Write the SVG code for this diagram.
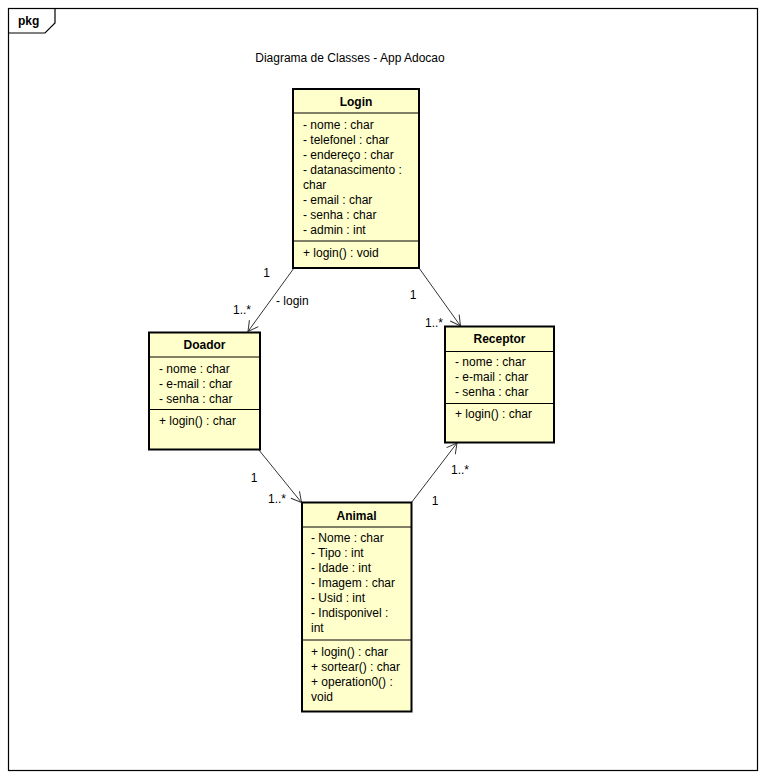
<svg xmlns="http://www.w3.org/2000/svg" width="767" height="783" viewBox="0 0 767 783">
  <style>
    text { font-family: "Liberation Sans", Arial, sans-serif; font-size: 12px; fill: #000; }
    .title { font-weight: bold; text-anchor: middle; }
    .cls { fill: #ffffcc; stroke: #000; stroke-width: 2; }
    .sep { stroke: #000; stroke-width: 1; }
    .edge { fill: none; stroke: #333; stroke-width: 1; }
    .mid { text-anchor: middle; }
  </style>
  <defs>
    <marker id="open" markerUnits="userSpaceOnUse" markerWidth="14" markerHeight="14" viewBox="-12 -7 14 14" refX="0" refY="0" orient="auto">
      <path d="M-10,-5.5 L0,0 L-10,5.5" fill="none" stroke="#333" stroke-width="1"/>
    </marker>
  </defs>

  <rect x="0" y="0" width="767" height="783" fill="#fff"/>

  <!-- package frame -->
  <g id="pkg">
    <rect x="8.5" y="8.5" width="749" height="762" fill="none" stroke="#000" stroke-width="1.2"/>
    <path d="M8.5,33 H45 L55,23 V8.5" fill="none" stroke="#000" stroke-width="1.2"/>
    <text x="18" y="25" style="font-weight:bold">pkg</text>
    <text x="350" y="62" class="mid">Diagrama de Classes - App Adocao</text>
  </g>

  <!-- associations -->
  <g id="connectors">
    <line class="edge" x1="294" y1="268" x2="248" y2="331.5" marker-end="url(#open)"/>
    <line class="edge" x1="419" y1="268" x2="460.5" y2="326" marker-end="url(#open)"/>
    <line class="edge" x1="258.5" y1="449.5" x2="301.5" y2="502.5" marker-end="url(#open)"/>
    <line class="edge" x1="411.5" y1="502.5" x2="457" y2="443" marker-end="url(#open)"/>
    <text x="266.5" y="277" class="mid">1</text>
    <text x="242" y="314" class="mid">1..*</text>
    <text x="276" y="304.5">- login</text>
    <text x="413" y="299" class="mid">1</text>
    <text x="434" y="327" class="mid">1..*</text>
    <text x="254" y="482" class="mid">1</text>
    <text x="277" y="503" class="mid">1..*</text>
    <text x="460" y="474" class="mid">1..*</text>
    <text x="435" y="505" class="mid">1</text>
  </g>

  <!-- Login -->
  <g id="Login">
    <rect class="cls" x="293" y="89" width="126" height="179"/>
    <line class="sep" x1="293" y1="113" x2="419" y2="113"/>
    <line class="sep" x1="293" y1="241" x2="419" y2="241"/>
    <text x="356" y="106" class="title">Login</text>
    <text x="303" y="129">- nome : char</text>
    <text x="303" y="144">- telefonel : char</text>
    <text x="303" y="159">- endereço : char</text>
    <text x="303" y="174">- datanascimento :</text>
    <text x="303" y="189">char</text>
    <text x="303" y="204">- email : char</text>
    <text x="303" y="219">- senha : char</text>
    <text x="303" y="234">- admin : int</text>
    <text x="303" y="257">+ login() : void</text>
  </g>

  <!-- Doador -->
  <g id="Doador">
    <rect class="cls" x="149" y="332.5" width="111" height="117"/>
    <line class="sep" x1="149" y1="357" x2="260" y2="357"/>
    <line class="sep" x1="149" y1="409.5" x2="260" y2="409.5"/>
    <text x="204.5" y="349" class="title">Doador</text>
    <text x="159" y="373">- nome : char</text>
    <text x="159" y="388">- e-mail : char</text>
    <text x="159" y="403">- senha : char</text>
    <text x="159" y="425">+ login() : char</text>
  </g>

  <!-- Receptor -->
  <g id="Receptor">
    <rect class="cls" x="445" y="326.5" width="109" height="116"/>
    <line class="sep" x1="445" y1="351.5" x2="554" y2="351.5"/>
    <line class="sep" x1="445" y1="403.5" x2="554" y2="403.5"/>
    <text x="499.5" y="343" class="title">Receptor</text>
    <text x="455" y="366">- nome : char</text>
    <text x="455" y="381">- e-mail : char</text>
    <text x="455" y="396">- senha : char</text>
    <text x="455" y="418">+ login() : char</text>
  </g>

  <!-- Animal -->
  <g id="Animal">
    <rect class="cls" x="302" y="502.5" width="109.5" height="209"/>
    <line class="sep" x1="302" y1="527" x2="411.5" y2="527"/>
    <line class="sep" x1="302" y1="640" x2="411.5" y2="640"/>
    <text x="356.5" y="520" class="title">Animal</text>
    <text x="311" y="542">- Nome : char</text>
    <text x="311" y="557">- Tipo : int</text>
    <text x="311" y="572">- Idade : int</text>
    <text x="311" y="587">- Imagem : char</text>
    <text x="311" y="602">- Usid : int</text>
    <text x="311" y="617">- Indisponivel :</text>
    <text x="311" y="632">int</text>
    <text x="311" y="656">+ login() : char</text>
    <text x="311" y="671">+ sortear() : char</text>
    <text x="311" y="686">+ operation0() :</text>
    <text x="311" y="701">void</text>
  </g>
</svg>
